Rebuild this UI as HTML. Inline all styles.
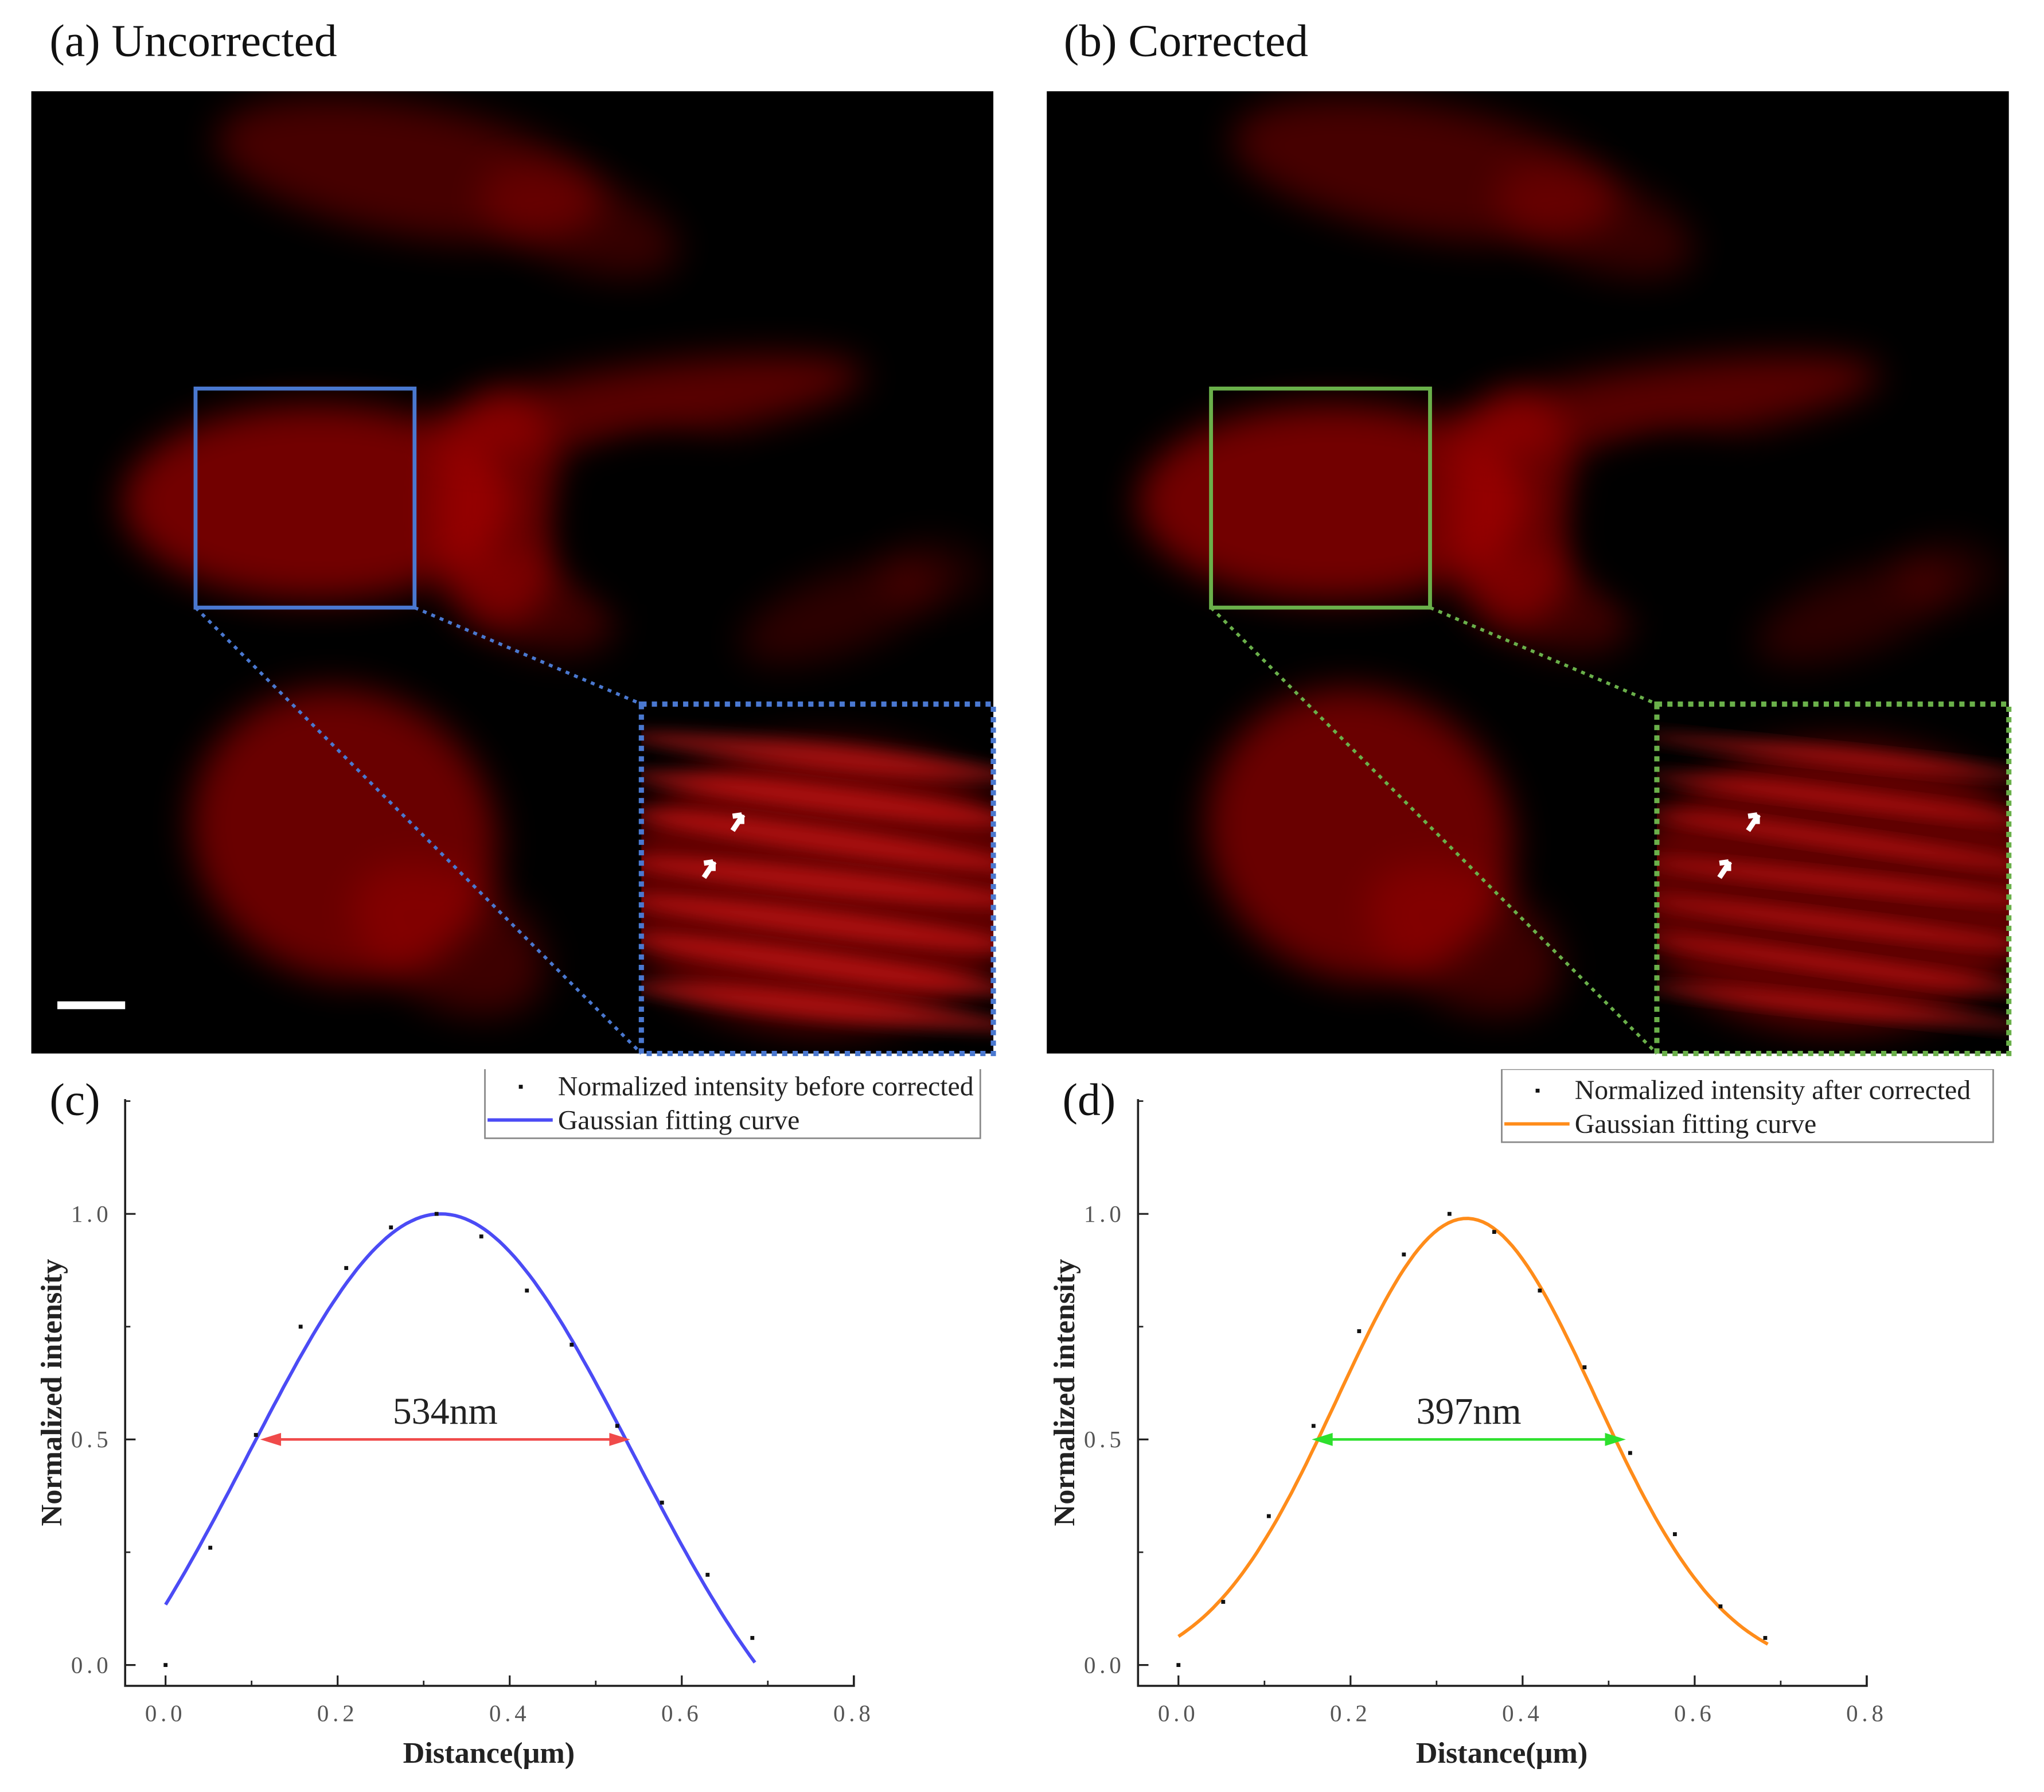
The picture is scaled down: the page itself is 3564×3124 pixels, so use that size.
<!DOCTYPE html>
<html><head><meta charset="utf-8">
<style>
html,body{margin:0;padding:0;background:#fff;}
#root{position:absolute;left:0;top:0;width:1568px;height:1374px;transform:scale(2.273);transform-origin:0 0;font-family:"Liberation Serif",serif;}
.lbl{position:absolute;font-size:35px;color:#111;}
svg text{font-family:"Liberation Serif",serif;}
</style></head>
<body>
<div id="root">
<div class="lbl" style="left:38px;top:12px">(a) Uncorrected</div>
<div class="lbl" style="left:816px;top:12px">(b) Corrected</div>

<svg id="imgs" width="1568" height="820" style="position:absolute;left:0;top:0">
<defs>
<filter id="b1" x="-50%" y="-50%" width="200%" height="200%"><feGaussianBlur stdDeviation="14"/></filter>
<filter id="b2" x="-50%" y="-50%" width="200%" height="200%"><feGaussianBlur stdDeviation="6"/></filter>
</defs>
<g id="panelA"></g>
<g id="panelB"></g>
</svg>

<div class="lbl" style="left:38px;top:824px">(c)</div>
<div class="lbl" style="left:815px;top:824px">(d)</div>
<svg id="charts" width="1568" height="554" viewBox="0 820 1568 554" style="position:absolute;left:0;top:820px"></svg>
</div>
<script>
// ---------- chart data ----------
const xTicks = [0.0, 0.2, 0.4, 0.6, 0.8];
const xTickLabels = ["0.0","0.2","0.4","0.6","0.8"];
const yTicks = [0.0, 0.5, 1.0];
const yTickLabels = ["0.0","0.5","1.0"];
const distC = [0,0.052,0.105,0.157,0.21,0.262,0.315,0.367,0.42,0.472,0.525,0.577,0.63,0.682];
const intC = [0,0.26,0.51,0.75,0.88,0.97,1.0,0.95,0.83,0.71,0.53,0.36,0.2,0.06];
const distD = [0,0.052,0.105,0.157,0.21,0.262,0.315,0.367,0.42,0.472,0.525,0.577,0.63,0.682];
const intD = [0,0.14,0.33,0.53,0.74,0.91,1.0,0.96,0.83,0.66,0.47,0.29,0.13,0.06];
// gaussian fit params: [y0, A, xc, w]
const fitC = [-0.35, 1.35, 0.32, 0.2234];
const fitD = [-0.02, 1.01, 0.335, 0.15];
const fwhmC = [0.11, 0.54];
const fwhmD = [0.155, 0.52];
const labelC = "534nm", labelD = "397nm";
const legendC = ["Normalized intensity before corrected","Gaussian fitting curve"];
const legendD = ["Normalized intensity after corrected","Gaussian fitting curve"];

const NS="http://www.w3.org/2000/svg";
function mk(tag,attrs,parent,txt){const e=document.createElementNS(NS,tag);for(const k in attrs)e.setAttribute(k,attrs[k]);if(txt!==undefined)e.textContent=txt;parent.appendChild(e);return e;}
const charts=document.getElementById('charts');

function drawChart(ox, pts, vals, fit, fwhm, label, curveColor, arrowColor, legend, legBox, name){
  const g=mk('g',{},charts);
  
  
  const X=v=>ox+31+v*660, Y=v=>1277-v*346;
  const ax=mk('path',{d:`M${ox} 843 L${ox} 1293 L${ox+559} 1293 L${ox+559} 1285`,stroke:'#222','stroke-width':1.6,fill:'none'},g);
  
  
  xTicks.forEach((t,i)=>{
    mk('line',{x1:X(t),x2:X(t),y1:1293,y2:1285,stroke:'#222','stroke-width':1.4},g);
    if(i<xTicks.length-1) mk('line',{x1:X(t+0.1),x2:X(t+0.1),y1:1293,y2:1289,stroke:'#222','stroke-width':1.2},g);
    const tl=mk('text',{x:X(t),y:1320,'font-size':18,fill:'#555','text-anchor':'middle','letter-spacing':'3'},g,xTickLabels[i]);
    
    
  });
  yTicks.forEach((t,i)=>{
    mk('line',{x1:ox,x2:ox+8,y1:Y(t),y2:Y(t),stroke:'#222','stroke-width':1.4},g);
    mk('line',{x1:ox,x2:ox+4,y1:Y(t+0.25),y2:Y(t+0.25),stroke:'#222','stroke-width':1.2},g);
    const tl=mk('text',{x:ox-10,y:Y(t)+6,'font-size':18,fill:'#555','text-anchor':'end','letter-spacing':'3'},g,yTickLabels[i]);
    
    
  });
  const yt=mk('text',{x:0,y:0,'font-size':23,'font-weight':'bold',fill:'#222','text-anchor':'middle',transform:`translate(${ox-49},1068) rotate(-90)`},g,'Normalized intensity');
  
  
  const xt=mk('text',{x:ox+279,y:1352,'font-size':23,'font-weight':'bold',fill:'#222','text-anchor':'middle'},g,'Distance(μm)');
  
  
  let d='';
  const x0=pts[0], x1=pts[pts.length-1]+0.003;
  for(let k=0;k<=120;k++){const x=x0+(x1-x0)*k/120;const y=fit[0]+fit[1]*Math.exp(-Math.pow(x-fit[2],2)/(2*fit[3]*fit[3]));d+=(k?'L':'M')+X(x).toFixed(1)+' '+Y(y).toFixed(1);}
  const c=mk('path',{d:d,stroke:curveColor,'stroke-width':2.6,fill:'none'},g);
  
  
  pts.forEach((p,i)=>{
    const r=mk('rect',{x:X(p)-1.5,y:Y(vals[i])-1.5,width:3,height:3,fill:'#111'},g);
    
    
  });
  const ya=Y(0.5), xa=X(fwhm[0]), xb=X(fwhm[1]);
  const ar=mk('g',{},g);
  
  
  mk('line',{x1:xa+10,x2:xb-10,y1:ya,y2:ya,stroke:arrowColor,'stroke-width':2},ar);
  mk('path',{d:`M${xa} ${ya} L${xa+16} ${ya-5} L${xa+16} ${ya+5}Z`,fill:arrowColor},ar);
  mk('path',{d:`M${xb} ${ya} L${xb-16} ${ya-5} L${xb-16} ${ya+5}Z`,fill:arrowColor},ar);
  const lt=mk('text',{x:(xa+xb)/2,y:ya-12,'font-size':29,fill:'#222','text-anchor':'middle'},g,label);
  
  
  const lg=mk('g',{},g);
  
  
  mk('rect',{x:legBox[0],y:legBox[1],width:legBox[2],height:56,fill:'#fff',stroke:'#888','stroke-width':1.2},lg);
  mk('rect',{x:legBox[0]+26,y:legBox[1]+15,width:3,height:3,fill:'#111'},lg);
  mk('text',{x:legBox[0]+56,y:legBox[1]+23,'font-size':21,fill:'#222'},lg,legend[0]);
  mk('line',{x1:legBox[0]+2,x2:legBox[0]+52,y1:legBox[1]+42,y2:legBox[1]+42,stroke:curveColor,'stroke-width':2.6},lg);
  mk('text',{x:legBox[0]+56,y:legBox[1]+49,'font-size':21,fill:'#222'},lg,legend[1]);
}
drawChart(96,distC,intC,fitC,fwhmC,labelC,'#4b4bf5','#f04a4a',legendC,[372,817,380],'chart-c');
drawChart(873,distD,intD,fitD,fwhmD,labelD,'#ff8c1a','#2ee02e',legendD,[1152,820,377],'chart-d');

// ---------- microscopy panels (decorative) ----------
function panel(gid, ox, boxColor, sharp){
  const g=document.getElementById(gid);
  mk('rect',{x:ox,y:70,width:738,height:738,fill:'#000'},g);
  const cp='cp'+gid;
  const defs=document.querySelector('#imgs defs');
  const clip=mk('clipPath',{id:cp},defs); mk('rect',{x:ox,y:70,width:738,height:738},clip);
  const blobs=mk('g',{'clip-path':`url(#${cp})`},g);
  const B=(cx,cy,rx,ry,rot,op)=>mk('ellipse',{cx:ox+cx,cy:cy,rx:rx,ry:ry,fill:'#b00000',opacity:op,transform:`rotate(${rot} ${ox+cx} ${cy})`,filter:'url(#b1)'},blobs);
  B(290,130,150,50,10,0.4);B(420,170,80,35,20,0.3);
  B(220,385,150,75,0,0.65);B(360,390,50,90,0,0.55);B(470,310,170,30,-8,0.5);
  B(380,460,70,35,20,0.35);B(620,470,80,30,-20,0.25);B(690,440,40,25,0,0.2);
  B(240,640,120,110,30,0.6);B(320,720,80,50,30,0.35);
  mk('ellipse',{cx:ox+480,cy:400,rx:75,ry:65,fill:'#000',filter:'url(#b1)'},blobs);
  const ix=ox+468, iy=540;
  mk('rect',{x:ix,y:iy,width:270,height:268,fill:'#000'},g);
  const c2='c2'+gid; const clip2=mk('clipPath',{id:c2},defs); mk('rect',{x:ix,y:iy,width:270,height:268},clip2);
  const ig=mk('g',{'clip-path':`url(#${c2})`},g);
  mk('ellipse',{cx:ix+140,cy:iy+140,rx:160,ry:110,fill:'#a00000',opacity:0.6,filter:'url(#b1)'},ig);
  for(let k=0;k<7;k++) mk('ellipse',{cx:ix+140,cy:iy+40+k*32,rx:150,ry:sharp?6:10,fill:'#ff2020',opacity:0.45,filter:'url(#b2)',transform:`rotate(${6+k%3} ${ix+140} ${iy+40+k*32})`},ig);
  mk('rect',{x:ix,y:iy,width:270,height:268,fill:'none',stroke:boxColor,'stroke-width':4,'stroke-dasharray':'4 4'},g);
  const bx=ox+126;
  mk('rect',{x:bx,y:298,width:168,height:168,fill:'none',stroke:boxColor,'stroke-width':3},g);
  mk('line',{x1:bx,y1:466,x2:ix,y2:808,stroke:boxColor,'stroke-width':2.5,'stroke-dasharray':'3 4'},g);
  mk('line',{x1:bx+168,y1:466,x2:ix,y2:iy,stroke:boxColor,'stroke-width':2.5,'stroke-dasharray':'3 4'},g);
  mk('path',{d:`M${ix+70} ${iy+97} l8 -12 M${ix+77} ${iy+85} l0 7 M${ix+77} ${iy+85} l-7 1`,stroke:'#fff','stroke-width':4,fill:'none'},g);
  mk('path',{d:`M${ix+48} ${iy+133} l8 -12 M${ix+55} ${iy+121} l0 7 M${ix+55} ${iy+121} l-7 1`,stroke:'#fff','stroke-width':4,fill:'none'},g);
}
panel('panelA',24,'#4a78d0',false);
panel('panelB',803,'#6ab04a',true);
const sb=mk('rect',{x:44,y:768,width:52,height:6,fill:'#fff'},document.getElementById('panelA'));


</script>
</body></html>
